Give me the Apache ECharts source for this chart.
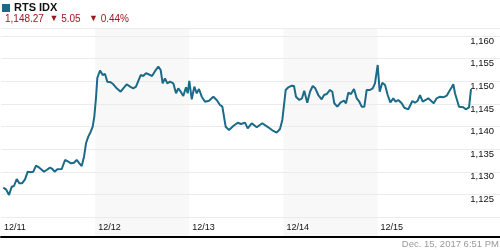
<!DOCTYPE html>
<html lang="en">
<head>
  <meta charset="UTF-8">
  <title>RTS IDX</title>
  <script src="https://cdn.jsdelivr.net/npm/echarts@6/dist/echarts.min.js"></script>
  <style>
    html, body { margin: 0; padding: 0; background: #fff; }
    #chart { width: 500px; height: 250px; }
  </style>
</head>
<body>
  <div id="chart"></div>

  <script>
    // days since 12/11 open (fractional) and index level
    const times = [
      0.024, 0.053, 0.085, 0.114, 0.138, 0.167, 0.194, 0.223, 0.255, 0.284,
      0.315, 0.343, 0.372, 0.407, 0.457, 0.485, 0.520, 0.545, 0.570, 0.598,
      0.645, 0.680, 0.715, 0.743, 0.775, 0.804, 0.832, 0.857, 0.882, 0.903,
      0.927, 0.953, 0.974, 0.991, 1.009, 1.023, 1.038, 1.052, 1.080, 1.105,
      1.129, 1.165, 1.193, 1.229, 1.271, 1.299, 1.335, 1.370, 1.405, 1.434,
      1.484, 1.511, 1.540, 1.569, 1.604, 1.639, 1.671, 1.696, 1.717, 1.742,
      1.766, 1.795, 1.830, 1.859, 1.883, 1.909, 1.936, 1.965, 1.983, 2.000,
      2.026, 2.053, 2.079, 2.103, 2.132, 2.167, 2.209, 2.255, 2.291, 2.326,
      2.351, 2.372, 2.386, 2.422, 2.467, 2.514, 2.549, 2.592, 2.620, 2.663,
      2.716, 2.775, 2.839, 2.892, 2.928, 2.963, 2.988, 3.024, 3.052, 3.088,
      3.112, 3.133, 3.168, 3.197, 3.221, 3.253, 3.282, 3.311, 3.338, 3.370,
      3.406, 3.431, 3.459, 3.494, 3.519, 3.540, 3.572, 3.608, 3.643, 3.664,
      3.689, 3.717, 3.749, 3.778, 3.806, 3.831, 3.859, 3.884, 3.919, 3.948,
      3.972, 4.001, 4.022, 4.050, 4.079, 4.107, 4.135, 4.167, 4.192, 4.220,
      4.256, 4.284, 4.326, 4.344, 4.369, 4.397, 4.426, 4.450, 4.479, 4.511,
      4.538, 4.567, 4.596, 4.627, 4.663, 4.698, 4.734, 4.758, 4.787, 4.804,
      4.822, 4.843, 4.865, 4.886, 4.910, 4.936, 4.971, 4.992
    ];
    const values = [
      1126.48, 1126.12, 1124.86, 1126.70, 1126.85, 1128.40, 1127.45, 1127.45, 1128.33, 1130.01,
      1129.88, 1130.01, 1131.34, 1130.90, 1130.01, 1130.39, 1130.90, 1130.61, 1130.01, 1130.54,
      1130.61, 1132.60, 1132.22, 1131.87, 1132.00, 1132.60, 1131.87, 1131.27, 1133.33, 1136.29,
      1137.75, 1138.85, 1139.96, 1142.17, 1146.30, 1150.72, 1151.60, 1152.38, 1151.38, 1151.60,
      1149.90, 1149.77, 1149.33, 1148.44, 1147.69, 1148.44, 1149.33, 1148.80, 1148.44, 1148.80,
      1151.38, 1151.16, 1151.76, 1151.54, 1151.16, 1152.33, 1153.22, 1152.49, 1149.55, 1150.65,
      1149.55, 1149.90, 1149.55, 1147.34, 1148.44, 1147.69, 1146.74, 1148.66, 1147.34, 1150.06,
      1146.01, 1148.80, 1147.34, 1148.29, 1146.59, 1145.48, 1145.70, 1146.59, 1145.86, 1144.75,
      1144.38, 1144.53, 1139.96, 1139.23, 1140.11, 1140.84, 1140.55, 1140.84, 1139.60, 1140.71,
      1139.82, 1140.71, 1139.82, 1139.01, 1138.63, 1139.45, 1141.44, 1148.07, 1148.66, 1149.02,
      1148.95, 1146.59, 1145.86, 1146.23, 1147.91, 1145.26, 1147.69, 1148.95, 1148.44, 1146.96,
      1146.01, 1146.96, 1147.18, 1148.07, 1147.69, 1145.13, 1144.38, 1145.35, 1145.70, 1145.13,
      1147.47, 1147.18, 1148.29, 1146.23, 1145.48, 1144.38, 1144.38, 1148.07, 1148.07, 1148.44,
      1149.55, 1153.59, 1147.69, 1149.68, 1149.17, 1146.96, 1145.35, 1146.23, 1145.48, 1145.86,
      1145.13, 1144.15, 1143.80, 1143.43, 1145.64, 1145.26, 1145.70, 1146.96, 1145.48, 1145.86,
      1146.23, 1145.70, 1145.13, 1146.23, 1146.59, 1146.45, 1146.81, 1147.69, 1148.66, 1149.33,
      1147.34, 1147.34, 1144.38, 1144.53, 1144.24, 1143.80, 1144.24, 1148.27
    ];
    const dayLabels = ['12/11', '12/12', '12/13', '12/14', '12/15'];
    const shadedDays = [[1, 2], [3, 4]];

    const indexName = 'RTS IDX';
    const lastPrice = '1,148.27';
    const change = '5.05';
    const changePct = '0.44%';
    const stamp = 'Dec. 15, 2017 6:51 PM';

    const font = 'Arial, "Liberation Sans", Helvetica, sans-serif';
    const lineColor = '#1a6a88';
    const downColor = '#a3151c';

    const chart = echarts.init(document.getElementById('chart'), null, { renderer: 'canvas' });

    const option = {
      animation: false,
      backgroundColor: '#ffffff',
      textStyle: { fontFamily: font },
      graphic: [
        { type: 'rect', left: 2, top: 4, shape: { width: 8, height: 8 }, style: { fill: lineColor } },
        {
          type: 'text', left: 14, top: 2,
          style: { text: indexName, font: 'bold 11px ' + font, fill: '#111' }
        },
        {
          type: 'text', left: 5, top: 14,
          style: {
            text: '{p|' + lastPrice + '  }{t|▼}{p| ' + change + '   }{t|▼}{p| ' + changePct + '}',
            fill: downColor,
            rich: {
              p: { fontSize: 10, fontFamily: font, fill: downColor },
              t: { fontSize: 9, fontFamily: font, fill: downColor }
            }
          }
        },
        {
          type: 'text', right: 1, top: 239,
          style: { text: stamp, font: '9.5px ' + font, fill: '#9a9a9a' }
        }
      ],
      grid: [
        { left: 1, right: 0, top: 28, bottom: 13 },
        { left: 1, right: 0, top: 36, bottom: 33 }
      ],
      xAxis: [
        {
          gridIndex: 0, type: 'value', min: 0, max: 5.3, interval: 1, z: 10,
          axisLine: { show: true, lineStyle: { color: '#000', width: 2 } },
          axisTick: { show: false },
          splitLine: { show: false },
          axisLabel: {
            inside: true, margin: 9, align: 'left', verticalAlign: 'middle',
            padding: [0, 0, 0, 3],
            fontSize: 9, color: '#111',
            showMaxLabel: false,
            formatter: v => dayLabels[Math.round(v)] || ''
          }
        },
        {
          gridIndex: 1, type: 'value', min: 0, max: 5.3,
          show: false
        }
      ],
      yAxis: [
        {
          gridIndex: 0, type: 'value', min: 0, max: 1, interval: 1, z: 10,
          axisLine: { show: false }, axisTick: { show: false }, axisLabel: { show: false },
          splitLine: { show: true, lineStyle: { color: '#ededed', width: 1 } }
        },
        {
          gridIndex: 1, type: 'value', position: 'right', z: 10,
          min: 1120, max: 1160, interval: 5,
          axisLine: { show: false }, axisTick: { show: false },
          splitLine: { show: true, lineStyle: { color: '#ebebeb', width: 1 } },
          axisLabel: {
            inside: true, margin: 6, verticalAlign: 'top',
            fontSize: 9.5, color: '#111',
            showMinLabel: false,
            formatter: v => v.toLocaleString('en-US')
          }
        }
      ],
      series: [
        {
          type: 'line', xAxisIndex: 0, yAxisIndex: 0, z: 1,
          data: [[0, 0]], showSymbol: false, symbol: 'none',
          lineStyle: { width: 0 }, silent: true,
          markArea: {
            silent: true,
            itemStyle: { color: '#f8f8f8' },
            data: shadedDays.map(d => [{ xAxis: d[0] }, { xAxis: d[1] }])
          }
        },
        {
          name: indexName, type: 'line', xAxisIndex: 1, yAxisIndex: 1, z: 20,
          data: times.map((t, i) => [t, values[i]]),
          showSymbol: false, symbol: 'none',
          lineStyle: { color: lineColor, width: 2 },
          itemStyle: { color: lineColor }
        }
      ]
    };

    chart.setOption(option);
    window.addEventListener('resize', () => chart.resize());
  </script>
</body>
</html>
